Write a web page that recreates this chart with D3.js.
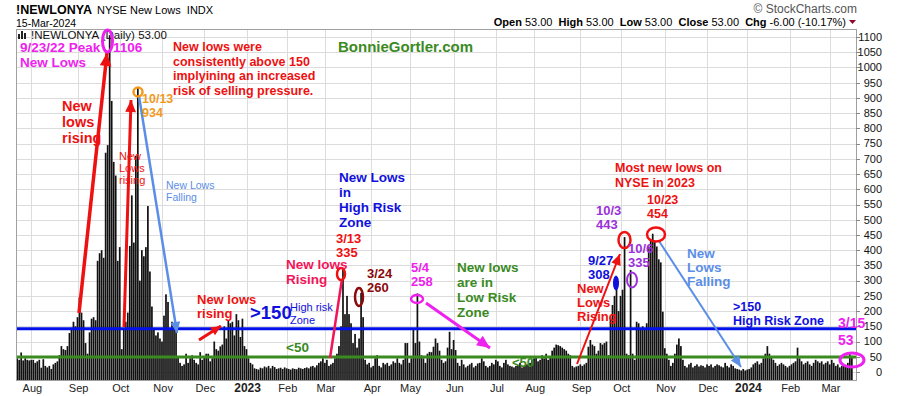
<!DOCTYPE html>
<html>
<head>
<meta charset="utf-8">
<script src="https://d3js.org/d3.v7.min.js"></script>
<style>
  body { margin: 0; background: #fff; }
  svg { display: block; font-family: Arial, "Liberation Sans", sans-serif; }
</style>
</head>
<body>
<svg id="chart" width="900" height="396"></svg>
<script>
// one entry per month block; the first block is the tail of Jul 2022 (no label)
const monthLabels = ["", "Aug", "Sep", "Oct", "Nov", "Dec", "2023", "Feb", "Mar", "Apr", "May", "Jun",
  "Jul", "Aug", "Sep", "Oct", "Nov", "Dec", "2024", "Feb", "Mar"];
const boldLabels = ["2023", "2024"];

// daily NYSE new lows, one array per month block
const jul22 = [45, 40, 64, 38, 45, 40, 38, 40];
const aug22 = [40, 30, 35, 40, 14, 42, 20, 15, 20, 10, 25, 30, 35, 55, 85, 75, 72, 85, 128, 145, 165, 150, 180];
const sep22 = [245, 195, 170, 95, 60, 130, 175, 180, 170, 365, 390, 400, 375, 720, 745, 1106, 890, 690, 645, 365, 410];
const oct22 = [75, 140, 165, 195, 414, 580, 425, 710, 934, 300, 400, 380, 410, 545, 330, 215, 140, 120, 130, 110, 100];
const nov22 = [185, 255, 230, 140, 165, 160, 145, 50, 30, 20, 25, 60, 30, 45, 55, 40, 30, 25, 65, 40, 50];
const dec22 = [60, 60, 35, 45, 100, 75, 70, 84, 90, 150, 110, 170, 160, 165, 120, 190, 170, 115, 175, 85, 75];
const jan23 = [45, 30, 25, 12, 10, 8, 14, 12, 18, 15, 20, 12, 20, 16, 10, 12, 14, 10, 15, 12];
const feb23 = [10, 8, 12, 10, 9, 14, 12, 10, 13, 15, 12, 18, 20, 15, 22, 30, 35, 45, 30];
const mar23 = [40, 20, 25, 30, 45, 60, 85, 150, 335, 190, 250, 190, 160, 95, 125, 80, 110, 260, 180, 40, 25, 30, 15];
const apr23 = [20, 45, 55, 20, 15, 30, 25, 30, 20, 25, 35, 30, 45, 30, 25, 40, 95, 95, 30];
const may23 = [45, 140, 95, 258, 100, 55, 45, 30, 60, 66, 65, 83, 110, 95, 70, 40, 30, 35, 80, 132, 75, 105];
const jun23 = [72, 30, 20, 40, 25, 15, 20, 25, 30, 15, 20, 28, 30, 45, 35, 20, 15, 20, 30, 25, 40];
const jul23 = [35, 20, 15, 30, 40, 25, 20, 18, 15, 20, 22, 30, 15, 20, 25, 25, 30, 40, 45];
const aug23 = [50, 35, 40, 55, 45, 60, 40, 50, 70, 80, 90, 88, 85, 80, 75, 70, 60, 55, 20, 15, 18, 20, 25];
const sep23 = [20, 25, 30, 83, 105, 90, 85, 60, 70, 95, 90, 95, 100, 55, 180, 220, 250, 308, 200, 250];
const oct23 = [270, 443, 60, 55, 335, 60, 40, 165, 160, 145, 150, 140, 160, 412, 430, 454, 430, 412, 370, 360, 198, 78];
const nov23 = [60, 40, 20, 30, 60, 90, 110, 85, 40, 20, 15, 25, 30, 15, 20, 25, 18, 22, 20, 15, 25];
const dec23 = [20, 25, 15, 20, 25, 22, 18, 15, 30, 20, 15, 25, 20, 12, 10, 8, 5, 10, 5, 8];
const jan24 = [10, 15, 25, 30, 35, 25, 30, 45, 60, 85, 60, 50, 40, 30, 20, 25, 30, 25, 20, 15, 20];
const feb24 = [25, 30, 35, 80, 45, 35, 25, 30, 35, 25, 20, 30, 40, 35, 30, 35, 25, 30, 35, 25];
const mar24 = [40, 30, 20, 25, 15, 20, 25, 20, 30, 59, 53];

const monthBlocks = [jul22, aug22, sep22, oct22, nov22, dec22, jan23, feb23, mar23, apr23, may23, jun23,
  jul23, aug23, sep23, oct23, nov23, dec23, jan24, feb24, mar24];

const yTicks = d3.range(0, 1101, 50);
const highRiskLevel = 142;
const lowRiskLevel = 49;

const values = monthBlocks.flat();
const monthStarts = [];
let acc = 0;
monthBlocks.forEach((m, k) => { monthStarts.push({ label: monthLabels[k], idx: acc }); acc += m.length; });

const plotL = 16, plotR = 856, plotT = 29, plotB = 380;
const svg = d3.select("#chart");

var x = d3.scaleBand().domain(d3.range(values.length)).range([plotL, 853]).padding(0.15);
var y = d3.scaleLinear().domain([-26.3, 1126.3]).range([plotB, plotT]);

// plot background + grid
svg.append("rect").attr("x", plotL).attr("y", plotT).attr("width", plotR - plotL).attr("height", plotB - plotT)
  .attr("fill", "#fff");

svg.append("g").selectAll("line").data(yTicks).join("line")
  .attr("x1", plotL).attr("x2", plotR)
  .attr("y1", d => Math.round(y(d)) + 0.5).attr("y2", d => Math.round(y(d)) + 0.5)
  .attr("stroke", "#dcdcdc").attr("stroke-width", 1);

const labeled = monthStarts.filter(m => m.label !== "");
svg.append("g").selectAll("line").data(labeled).join("line")
  .attr("x1", d => Math.round(x(d.idx)) - 0.5).attr("x2", d => Math.round(x(d.idx)) - 0.5)
  .attr("y1", plotT).attr("y2", plotB)
  .attr("stroke", "#dcdcdc").attr("stroke-width", 1);

// bars
svg.append("g").selectAll("rect").data(values).join("rect")
  .attr("x", (d, i) => x(i))
  .attr("width", x.bandwidth())
  .attr("y", d => y(d))
  .attr("height", d => plotB - y(d))
  .attr("fill", "#111");

// risk lines
svg.append("line").attr("x1", plotL).attr("x2", plotR).attr("y1", y(highRiskLevel)).attr("y2", y(highRiskLevel))
  .attr("stroke", "#0010e8").attr("stroke-width", 3);
svg.append("line").attr("x1", plotL).attr("x2", plotR).attr("y1", y(lowRiskLevel)).attr("y2", y(lowRiskLevel))
  .attr("stroke", "#3b8a1f").attr("stroke-width", 3);

// border
svg.append("rect").attr("x", plotL + 0.5).attr("y", plotT + 0.5).attr("width", plotR - plotL).attr("height", plotB - plotT)
  .attr("fill", "none").attr("stroke", "#a0a0a0");

// y axis on the right
const yAxis = svg.append("g");
yAxis.selectAll("line").data(yTicks).join("line")
  .attr("x1", plotR).attr("x2", plotR + 4)
  .attr("y1", d => Math.round(y(d)) + 0.5).attr("y2", d => Math.round(y(d)) + 0.5)
  .attr("stroke", "#888");
yAxis.selectAll("text").data(yTicks).join("text")
  .attr("x", 882).attr("y", d => y(d)).attr("dy", "0.35em")
  .attr("text-anchor", "end").attr("font-size", 11).attr("fill", "#111")
  .text(d => d);

// x axis labels
svg.append("g").selectAll("text").data(labeled).join("text")
  .attr("x", d => x(d.idx)).attr("y", 392)
  .attr("text-anchor", "middle")
  .attr("font-size", d => boldLabels.includes(d.label) ? 12 : 11)
  .attr("font-weight", d => boldLabels.includes(d.label) ? "bold" : "normal")
  .attr("fill", "#222")
  .text(d => d.label);

// header
svg.append("text").attr("x", 16).attr("y", 14).attr("font-size", 12.5).attr("font-weight", "bold").text("!NEWLONYA");
svg.append("text").attr("x", 97).attr("y", 14).attr("font-size", 11).attr("xml:space", "preserve").text("NYSE New Lows  INDX");
svg.append("text").attr("x", 16).attr("y", 27).attr("font-size", 10.5).text("15-Mar-2024");
svg.append("text").attr("x", 857).attr("y", 13).attr("font-size", 12).attr("text-anchor", "end").attr("fill", "#555")
  .text("\u00A9 StockCharts.com");
const ohlc = svg.append("text").attr("x", 846).attr("y", 26).attr("font-size", 11).attr("text-anchor", "end")
  .attr("xml:space", "preserve");
[["Open", " 53.00  "], ["High", " 53.00  "], ["Low", " 53.00  "], ["Close", " 53.00  "], ["Chg", " -6.00 (-10.17%)"]]
  .forEach(p => {
    ohlc.append("tspan").attr("font-weight", "bold").text(p[0]);
    ohlc.append("tspan").text(p[1]);
  });
svg.append("path").attr("d", "M849,20 L856,20 L852.5,24 Z").attr("fill", "#8b0a2a");

// legend line inside plot
const icon = svg.append("g").attr("fill", "#222");
[[18, 34, 2, 5], [21, 31, 2, 8], [24, 33, 2, 6]].forEach(r =>
  icon.append("rect").attr("x", r[0]).attr("y", r[1]).attr("width", r[2]).attr("height", r[3]));
svg.append("text").attr("x", 31).attr("y", 39).attr("font-size", 11.5).attr("fill", "#111")
  .text("!NEWLONYA (Daily) 53.00");

// arrows
function arrow(x1, y1, x2, y2, color, w, head) {
  svg.append("line").attr("x1", x1).attr("y1", y1).attr("x2", x2).attr("y2", y2)
    .attr("stroke", color).attr("stroke-width", w);
  if (!head) return;
  const a = Math.atan2(y2 - y1, x2 - x1);
  const hw = head * 0.45;
  const bx = x2 - head * Math.cos(a), by = y2 - head * Math.sin(a);
  const p = [[x2, y2],
    [bx + hw * Math.sin(a), by - hw * Math.cos(a)],
    [bx - hw * Math.sin(a), by + hw * Math.cos(a)]];
  svg.append("path").attr("d", "M" + p.map(q => q.join(",")).join("L") + "Z").attr("fill", color);
}
arrow(79, 313, 107, 53, "#ee1111", 3.5, 13);
arrow(124, 327, 131, 100, "#ee1111", 3, 12);
arrow(139, 96, 177, 333, "#5b8ee6", 2.5, 11);
arrow(199, 340, 221, 326, "#ee1111", 3, 10);
arrow(330, 358, 342, 279, "#f2155a", 2.5, 0);
arrow(426, 303, 490, 348, "#ee22ee", 3, 13);
arrow(577, 364, 620, 254, "#ee1111", 2, 11);
arrow(659, 241, 741, 367, "#5b8ee6", 2, 11);

// ellipses
function ring(cx, cy, rx, ry, color, w, fill) {
  svg.append("ellipse").attr("cx", cx).attr("cy", cy).attr("rx", rx).attr("ry", ry)
    .attr("fill", fill || "none").attr("stroke", color).attr("stroke-width", w);
}
ring(107.5, 41, 5, 11, "#ee22ee", 3);
ring(138, 92, 4.5, 4.5, "#f29a1d", 2.5);
ring(341, 274, 4, 6, "#ee1111", 2.5);
ring(359, 297, 4, 9, "#8b0a0a", 2.5);
ring(417, 299, 6, 4, "#ee22ee", 2.5);
ring(616, 283, 2.5, 7, "#1010dd", 1, "#1010dd");
ring(624.5, 240, 6, 8, "#ee1111", 2.5);
ring(632, 280, 5, 7.5, "#9b30d9", 2);
ring(656, 234.5, 9, 7, "#ee1111", 2.5);
ring(852, 360, 12, 7, "#ee22ee", 3);

// text annotations: lines, x, centre of first line, line gap, size, weight, colour
function note(lines, tx, cy, gap, size, weight, color) {
  const t = svg.append("text").attr("font-size", size).attr("font-weight", weight).attr("fill", color);
  lines.forEach((s, k) => t.append("tspan").attr("x", tx).attr("y", cy + k * gap + size * 0.35).text(s));
}
note(["9/23/22 Peak", "New Lows"], 20, 47, 15, 13.5, "bold", "#ee22ee");
note(["1106"], 113, 47, 15, 13.5, "bold", "#ee22ee");
note(["New lows were", "consistently above 150", "implyining an increased", "risk of selling pressure."],
  173, 47, 14.5, 12.5, "bold", "#ee1111");
note(["BonnieGortler.com"], 338, 47, 15, 15, "bold", "#3b8a1f");
note(["New", "lows", "rising"], 62, 106, 16, 14.5, "bold", "#ee1111");
note(["New", "Lows", "rising"], 119, 156, 12, 11, "normal", "#ee1111");
note(["10/13", "934"], 142, 99, 14, 12.5, "bold", "#f29a1d");
note(["New Lows", "Falling"], 166, 185, 12, 10.5, "normal", "#5b8ee6");
note(["New lows", "rising"], 197, 299, 14.5, 13, "bold", "#ee1111");
note([">150"], 250, 313, 15, 18.5, "bold", "#1010dd");
note(["High risk", "Zone"], 290, 307, 13, 11, "normal", "#1010dd");
note(["<50"], 286, 347, 15, 13.5, "bold", "#3b8a1f");
note(["New lows", "Rising"], 286, 264, 15, 13.5, "bold", "#f2155a");
note(["New Lows", "in", "High Risk", "Zone"], 339, 177, 15, 13.5, "bold", "#1010dd");
note(["3/13", "335"], 336, 238, 14, 13, "bold", "#ee1111");
note(["3/24", "260"], 367, 273, 14, 13, "bold", "#8b0a0a");
note(["5/4", "258"], 411, 267, 14, 13, "bold", "#ee22ee");
note(["New lows", "are in", "Low Risk", "Zone"], 457, 267, 15, 13.5, "bold", "#3b8a1f");
note(["<50"], 512, 362, 15, 13, "bold", "#3b8a1f");
note(["New", "Lows", "Rising"], 577, 288, 14, 13, "bold", "#ee1111");
note(["9/27", "308"], 588, 260, 14, 13, "bold", "#1010dd");
note(["10/3", "443"], 596, 210, 14, 13, "bold", "#9b30d9");
note(["10/6", "335"], 628, 248, 14, 13, "bold", "#9b30d9");
note(["Most new lows on", "NYSE in 2023"], 615, 168, 14.5, 12.5, "bold", "#ee1111");
note(["10/23", "454"], 647, 200, 14, 12.5, "bold", "#ee1111");
note(["New", "Lows", "Falling"], 687, 253, 14, 13.5, "bold", "#5b8ee6");
note([">150", "High Risk Zone"], 733, 307, 14, 12.5, "bold", "#1010dd");
note(["3/15", "53"], 838, 323, 17, 14, "bold", "#ee22ee");
</script>
</body>
</html>
